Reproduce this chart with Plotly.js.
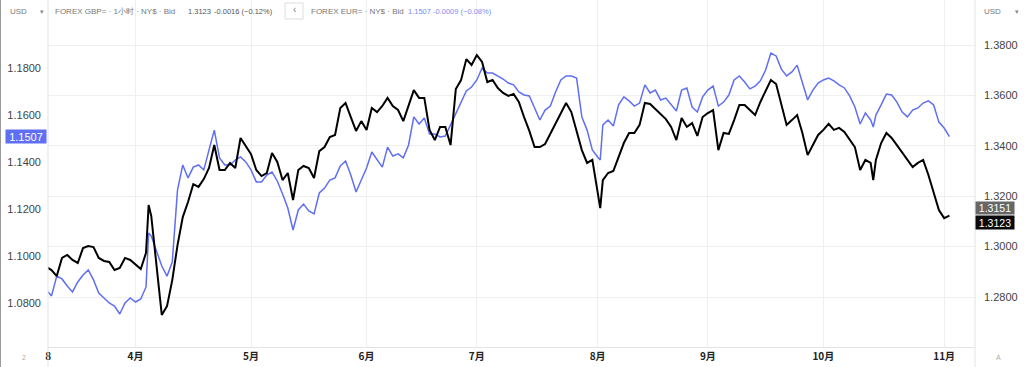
<!DOCTYPE html>
<html>
<head>
<meta charset="utf-8">
<script src="https://cdn.plot.ly/plotly-3.0.1.min.js"></script>
<style>html,body{margin:0;padding:0;background:#fff;}#chart{width:1024px;height:367px;}</style>
</head>
<body>
<div id="chart"></div>
<script>
// Trading days (hourly chart sampled roughly once per session)
const dates = [
"2025-03-07",
"2025-03-10","2025-03-11","2025-03-12","2025-03-13","2025-03-14",
"2025-03-17","2025-03-18","2025-03-19","2025-03-20","2025-03-21",
"2025-03-24","2025-03-25","2025-03-26","2025-03-27","2025-03-28",
"2025-03-31","2025-04-01","2025-04-02","2025-04-03","2025-04-03 12:00","2025-04-04",
"2025-04-07","2025-04-08","2025-04-09","2025-04-10","2025-04-11",
"2025-04-14","2025-04-15","2025-04-16","2025-04-17","2025-04-18",
"2025-04-21","2025-04-22","2025-04-23","2025-04-24","2025-04-25",
"2025-04-28","2025-04-29","2025-04-30","2025-05-01","2025-05-02",
"2025-05-05","2025-05-06","2025-05-07","2025-05-08","2025-05-09",
"2025-05-12","2025-05-13","2025-05-14","2025-05-15","2025-05-16",
"2025-05-19","2025-05-20","2025-05-21","2025-05-22","2025-05-23",
"2025-05-26","2025-05-27","2025-05-28","2025-05-29","2025-05-30",
"2025-06-02","2025-06-03","2025-06-04","2025-06-05","2025-06-06",
"2025-06-09","2025-06-10","2025-06-11","2025-06-12","2025-06-13",
"2025-06-16","2025-06-17","2025-06-18","2025-06-19","2025-06-20",
"2025-06-23","2025-06-24","2025-06-25","2025-06-26","2025-06-27",
"2025-06-30","2025-07-01","2025-07-02","2025-07-03","2025-07-04",
"2025-07-07","2025-07-08","2025-07-09","2025-07-10","2025-07-11",
"2025-07-14","2025-07-15","2025-07-16","2025-07-17","2025-07-18",
"2025-07-21","2025-07-22","2025-07-23","2025-07-24","2025-07-25",
"2025-07-28","2025-07-29","2025-07-30","2025-07-31","2025-08-01","2025-08-01 12:00",
"2025-08-04","2025-08-05","2025-08-06","2025-08-07","2025-08-08",
"2025-08-11","2025-08-12","2025-08-13","2025-08-14","2025-08-15",
"2025-08-18","2025-08-19","2025-08-20","2025-08-21","2025-08-22",
"2025-08-25","2025-08-26","2025-08-27","2025-08-28","2025-08-29",
"2025-09-01","2025-09-02","2025-09-03","2025-09-04","2025-09-05",
"2025-09-08","2025-09-09","2025-09-10","2025-09-11","2025-09-12",
"2025-09-15","2025-09-16","2025-09-17","2025-09-18","2025-09-19",
"2025-09-22","2025-09-23","2025-09-24","2025-09-25","2025-09-26",
"2025-09-29","2025-09-30","2025-10-01","2025-10-02","2025-10-03",
"2025-10-06","2025-10-07","2025-10-08","2025-10-09","2025-10-10",
"2025-10-13","2025-10-14","2025-10-14 12:00","2025-10-15","2025-10-16","2025-10-17",
"2025-10-20","2025-10-21","2025-10-22","2025-10-23","2025-10-24",
"2025-10-27","2025-10-28","2025-10-29","2025-10-30","2025-10-31",
"2025-11-03","2025-11-04"
];

// FOREX GBP= (right axis, black)
const gbp = [
1.2919,
1.2907,1.2883,1.2955,1.2967,1.2947,
1.2935,1.2994,1.3002,1.2998,1.2955,
1.2943,1.2939,1.2907,1.2915,1.2955,
1.2947,1.2927,1.2911,1.2975,1.3165,1.3121,
1.2915,1.2729,1.2764,1.2867,1.3006,
1.3117,1.3177,1.3248,1.3237,1.3268,
1.3312,1.3403,1.3304,1.3304,1.3332,
1.3312,1.3431,1.3399,1.3367,1.3304,
1.3280,1.3292,1.3371,1.3336,1.3264,
1.3292,1.3185,1.3304,1.3320,1.3312,
1.3272,1.3379,1.3395,1.3435,1.3443,
1.3550,1.3570,1.3514,1.3459,1.3498,
1.3463,1.3550,1.3534,1.3558,1.3590,
1.3558,1.3542,1.3498,1.3562,1.3621,
1.3590,1.3590,1.3463,1.3423,1.3475,
1.3475,1.3403,1.3625,1.3661,1.3744,
1.3721,1.3760,1.3733,1.3653,1.3661,
1.3629,1.3610,1.3598,1.3606,1.3574,
1.3514,1.3459,1.3395,1.3395,1.3407,
1.3447,1.3490,1.3526,1.3570,1.3534,
1.3455,1.3383,1.3332,1.3344,1.3217,1.3153,
1.3264,1.3292,1.3300,1.3356,1.3411,
1.3451,1.3451,1.3483,1.3570,1.3566,
1.3546,1.3526,1.3506,1.3475,1.3423,
1.3510,1.3475,1.3490,1.3439,1.3514,
1.3530,1.3542,1.3383,1.3451,1.3447,
1.3502,1.3562,1.3562,1.3542,1.3522,
1.3574,1.3621,1.3661,1.3645,1.3566,
1.3483,1.3502,1.3522,1.3451,1.3363,
1.3403,1.3443,1.3463,1.3487,1.3463,
1.3471,1.3455,1.3423,1.3395,1.3304,
1.3344,1.3332,1.3264,1.3344,1.3411,1.3451,
1.3431,1.3403,1.3375,1.3348,1.3316,
1.3332,1.3344,1.3284,1.3213,1.3145,
1.3113,1.3123
];

// FOREX EUR= (left axis, blue)
const eur = [
1.0856,
1.0831,1.0915,1.0903,1.0873,1.0848,
1.0890,1.0920,1.0941,1.0899,1.0843,
1.0822,1.0801,1.0788,1.0754,1.0801,
1.0822,1.0805,1.0818,1.0869,1.1098,1.1085,
1.1017,1.0958,1.0915,1.0975,1.1281,
1.1387,1.1332,1.1378,1.1387,1.1366,
1.1451,1.1535,1.1417,1.1387,1.1387,
1.1408,1.1421,1.1400,1.1366,1.1315,
1.1315,1.1344,1.1357,1.1319,1.1264,
1.1204,1.1111,1.1196,1.1221,1.1192,
1.1179,1.1268,1.1289,1.1323,1.1332,
1.1383,1.1404,1.1344,1.1272,1.1327,
1.1374,1.1442,1.1408,1.1378,1.1463,
1.1425,1.1434,1.1417,1.1472,1.1591,
1.1561,1.1586,1.1518,1.1518,1.1506,
1.1510,1.1557,1.1603,1.1654,1.1701,
1.1718,1.1748,1.1799,1.1777,1.1777,
1.1765,1.1752,1.1735,1.1727,1.1697,
1.1684,1.1680,1.1629,1.1578,1.1620,
1.1637,1.1697,1.1748,1.1765,1.1765,
1.1756,1.1591,1.1535,1.1451,1.1421,1.1408,
1.1557,1.1578,1.1552,1.1642,1.1676,
1.1659,1.1637,1.1650,1.1727,1.1693,
1.1705,1.1663,1.1671,1.1642,1.1616,
1.1705,1.1714,1.1633,1.1612,1.1676,
1.1705,1.1722,1.1637,1.1654,1.1684,
1.1748,1.1765,1.1739,1.1710,1.1722,
1.1744,1.1790,1.1862,1.1850,1.1794,
1.1765,1.1782,1.1811,1.1739,1.1663,
1.1705,1.1735,1.1748,1.1756,1.1744,
1.1727,1.1714,1.1680,1.1633,1.1561,
1.1608,1.1578,1.1548,1.1599,1.1642,1.1688,
1.1684,1.1654,1.1612,1.1591,1.1620,
1.1629,1.1650,1.1659,1.1642,1.1569,
1.1544,1.1507
];

const monthTickVals = ["2025-03-07 09:00","2025-04-01","2025-05-01","2025-06-02","2025-07-01","2025-08-01","2025-09-01","2025-10-01","2025-11-03"];
const monthTickText = ["8","4月","5月","6月","7月","8月","9月","10月","11月"];
const gbpTicks = [1.28, 1.30, 1.32, 1.34, 1.36, 1.38];
const eurTicks = [1.08, 1.10, 1.12, 1.14, 1.16, 1.18];

const gbpLast = 1.3123, gbpOther = 1.3151, eurLast = 1.1507;

// layout geometry (pixels)
const W = 1024, H = 367, ML = 48, MR = 49, MT = 0, MB = 20;
const PW = W - ML - MR, PH = H - MT - MB;
const px = x => (x - ML) / PW;
const py = y => 1 - (y - MT) / PH;

const FONT = "Liberation Sans, Arial, sans-serif";
function ann(text, x, y, o) {
  o = o || {};
  return Object.assign({
    text: text, xref: "paper", yref: "paper", x: px(x), y: py(y),
    xanchor: o.xanchor || "left", yanchor: "middle", showarrow: false,
    font: {family: FONT, size: o.size || 8, color: o.color || "#666"}
  }, o.extra || {});
}

const traces = [
  {x: dates, y: eur, type: "scatter", mode: "lines", yaxis: "y",
   line: {color: "#5f6ff2", width: 1.5}, hoverinfo: "skip", name: "EUR="},
  {x: dates, y: gbp, type: "scatter", mode: "lines", yaxis: "y2",
   line: {color: "#000000", width: 2}, hoverinfo: "skip", name: "GBP="}
];

const annotations = [
  ann("USD", 8, 11, {size: 8, color: "#777"}),
  ann("▾", 38, 11, {size: 7, color: "#888"}),
  ann("FOREX GBP= · 1小时 · NY$ · Bid", 53, 11, {color: "#777"}),
  ann(gbpLast.toFixed(4), 186, 11, {size: 7.5, color: "#555"}),
  ann("-0.0016 (−0.12%)", 212, 11, {size: 7.5, color: "#555"}),
  ann("‹", 294, 10, {xanchor: "center", size: 10, color: "#777"}),
  ann("FOREX EUR= · NY$ · Bid", 309, 11, {color: "#777"}),
  ann(eurLast.toFixed(4), 406, 11, {size: 7.5, color: "#7d8cf3"}),
  ann("-0.0009 (−0.08%)", 431, 11, {size: 7.5, color: "#7d8cf3"}),
  ann("USD", 982, 11, {size: 8, color: "#777"}),
  ann("▾", 1013, 11, {size: 7, color: "#888"}),
  ann(eurLast.toFixed(4), 26, 136.5, {xanchor: "center", size: 11, color: "#ffffff",
     extra: {bgcolor: "#5f6ff2", width: 40, height: 13, borderpad: 0}}),
  ann(gbpOther.toFixed(4), 995, 208, {xanchor: "center", size: 10.5, color: "#ffffff",
     extra: {bgcolor: "#676767", width: 38, height: 12, borderpad: 0}}),
  ann(gbpLast.toFixed(4), 995, 223, {xanchor: "center", size: 10.5, color: "#ffffff",
     extra: {bgcolor: "#0a0a0a", width: 38, height: 13, borderpad: 0}}),
  ann("2", 24, 357, {xanchor: "center", size: 7, color: "#aaa"}),
  ann("A", 999, 357, {xanchor: "center", size: 7, color: "#aaa"})
];

const shapes = [
  {type: "line", xref: "paper", yref: "paper", x0: 0, x1: 0, y0: py(H), y1: 1, line: {color: "#e3e3e3", width: 1}},
  {type: "line", xref: "paper", yref: "paper", x0: 1, x1: 1, y0: py(H), y1: 1, line: {color: "#e3e3e3", width: 1}},
  {type: "line", xref: "paper", yref: "paper", x0: px(0.5), x1: px(0.5), y0: py(H), y1: 1, line: {color: "#999", width: 1}},
  {type: "rect", xref: "paper", yref: "paper", x0: px(285), x1: px(303), y0: py(19), y1: py(3),
   line: {color: "#dddddd", width: 1}, fillcolor: "#ffffff", layer: "below"}
];

const layout = {
  width: W, height: H,
  margin: {l: ML, r: MR, t: MT, b: MB, pad: 0},
  paper_bgcolor: "#ffffff", plot_bgcolor: "#ffffff",
  showlegend: false,
  xaxis: {
    type: "date",
    range: ["2025-03-07 08:00", "2025-11-10 21:00"],
    rangebreaks: [{bounds: ["sat", "mon"]}],
    tickvals: monthTickVals, ticktext: monthTickText,
    showgrid: true, gridcolor: "#efefef", gridwidth: 1,
    showline: true, linecolor: "#e3e3e3", linewidth: 1,
    ticks: "", zeroline: false,
    tickfont: {family: "Noto Sans CJK SC, sans-serif", size: 10, color: "#222", weight: "bold"}
  },
  yaxis: {
    side: "left",
    range: [1.06140, 1.20875],
    tickvals: eurTicks, tickformat: ".4f",
    showgrid: false, zeroline: false, showline: false,
    ticks: "", ticklabelstandoff: 6,
    tickfont: {family: FONT, size: 11, color: "#444"}
  },
  yaxis2: {
    side: "right", overlaying: "y",
    range: [1.26016, 1.39786],
    tickvals: gbpTicks, tickformat: ".4f",
    showgrid: true, gridcolor: "#efefef", gridwidth: 1,
    zeroline: false, showline: false,
    ticks: "", ticklabelstandoff: 8,
    tickfont: {family: FONT, size: 11, color: "#444"}
  },
  annotations: annotations,
  shapes: shapes
};

Plotly.newPlot("chart", traces, layout, {staticPlot: true, displayModeBar: false});
</script>
</body>
</html>
